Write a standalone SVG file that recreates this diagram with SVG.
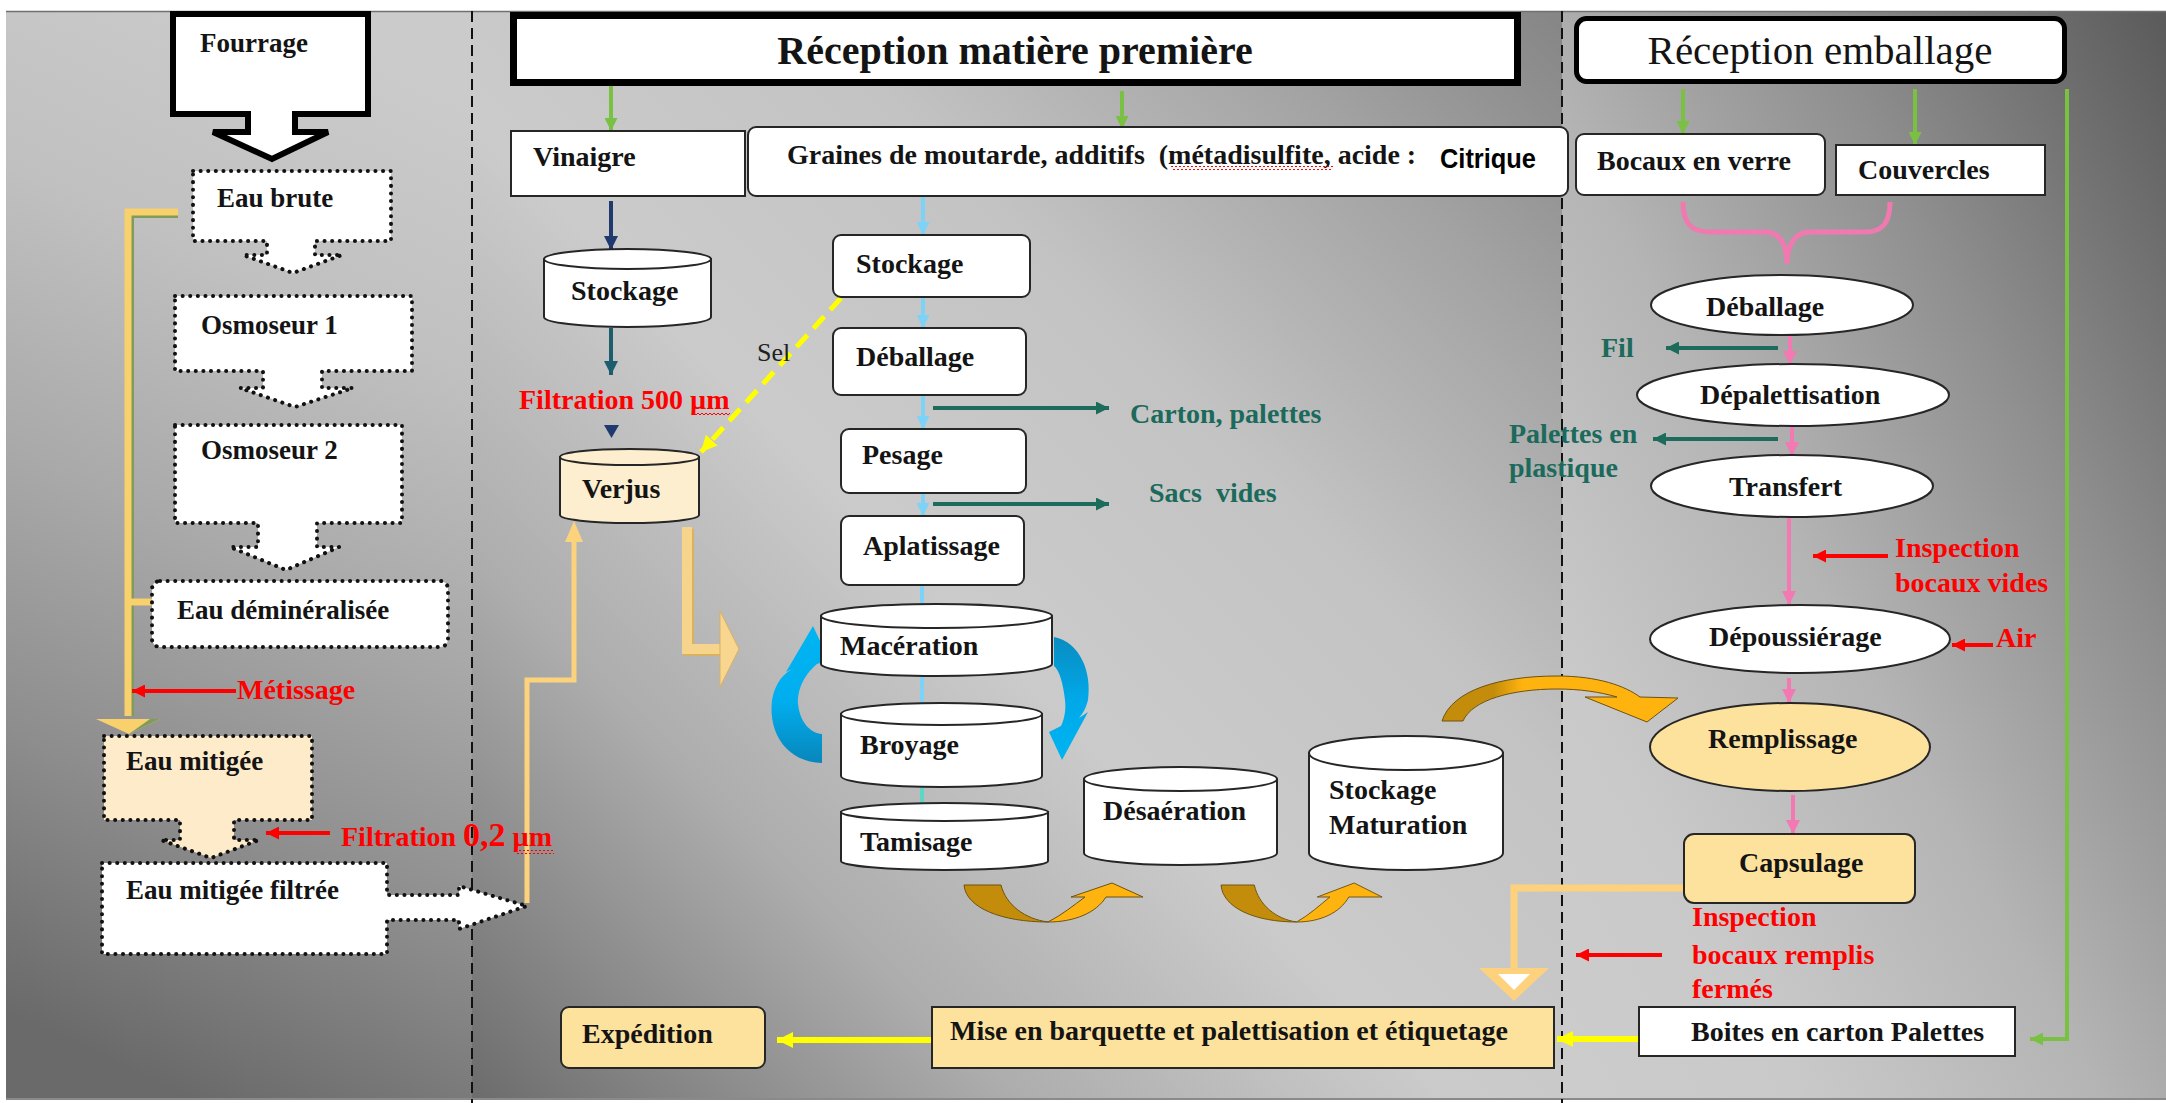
<svg xmlns="http://www.w3.org/2000/svg" width="2166" height="1103" viewBox="0 0 2166 1103">
<defs>
  <linearGradient id="bgL" x1="0.6" y1="0" x2="0.4" y2="1">
    <stop offset="0" stop-color="#cbcbcb"/><stop offset="0.25" stop-color="#c0c0c0"/>
    <stop offset="0.5" stop-color="#a9a9a9"/><stop offset="0.75" stop-color="#8d8d8d"/>
    <stop offset="1" stop-color="#6a6a6a"/>
  </linearGradient>
  <linearGradient id="bgM" x1="1" y1="0" x2="0" y2="1">
    <stop offset="0" stop-color="#858585"/><stop offset="0.15" stop-color="#a2a2a2"/>
    <stop offset="0.35" stop-color="#c3c3c3"/><stop offset="0.55" stop-color="#cbcbcb"/>
    <stop offset="0.75" stop-color="#adadad"/><stop offset="1" stop-color="#6c6c6c"/>
  </linearGradient>
  <linearGradient id="bgR" x1="1" y1="0" x2="0" y2="1">
    <stop offset="0" stop-color="#5a5a5a"/><stop offset="0.3" stop-color="#8f8f8f"/>
    <stop offset="0.55" stop-color="#b4b4b4"/><stop offset="0.8" stop-color="#c9c9c9"/>
    <stop offset="1" stop-color="#cccccc"/>
  </linearGradient>
  <linearGradient id="blueL" x1="0" y1="0" x2="0" y2="1">
    <stop offset="0" stop-color="#00b4f2"/><stop offset="0.55" stop-color="#00aeee"/><stop offset="1" stop-color="#0886bb"/>
  </linearGradient>
  <linearGradient id="blueR" x1="0" y1="0" x2="0" y2="1">
    <stop offset="0" stop-color="#0a8cc0"/><stop offset="0.5" stop-color="#00a8e8"/><stop offset="1" stop-color="#00b4f2"/>
  </linearGradient>
  <linearGradient id="gold" x1="0" y1="0" x2="1" y2="0">
    <stop offset="0" stop-color="#c38d0b"/><stop offset="0.22" stop-color="#c38d0b"/>
    <stop offset="0.34" stop-color="#ffb30f"/><stop offset="1" stop-color="#ffb30f"/>
  </linearGradient>
  <pattern id="squiggle" width="4" height="4" patternUnits="userSpaceOnUse">
    <path d="M0,3 L2,1 L4,3" fill="none" stroke="#ff0000" stroke-width="1"/>
  </pattern>
  <marker id="mGreen" viewBox="0 0 10 10" refX="10" refY="5" markerWidth="13" markerHeight="13" markerUnits="userSpaceOnUse" orient="auto"><path d="M0,0 L10,5 L0,10 z" fill="#7ac143"/></marker>
  <marker id="mNavy" viewBox="0 0 10 10" refX="10" refY="5" markerWidth="14" markerHeight="14" markerUnits="userSpaceOnUse" orient="auto"><path d="M0,0 L10,5 L0,10 z" fill="#1f3a6e"/></marker>
  <marker id="mNavy2" viewBox="0 0 10 10" refX="10" refY="5" markerWidth="14" markerHeight="14" markerUnits="userSpaceOnUse" orient="auto"><path d="M0,0 L10,5 L0,10 z" fill="#1d5d6d"/></marker>
  <marker id="mSky" viewBox="0 0 10 10" refX="10" refY="5" markerWidth="13" markerHeight="13" markerUnits="userSpaceOnUse" orient="auto"><path d="M0,0 L10,5 L0,10 z" fill="#7dd3f7"/></marker>
  <marker id="mTurq" viewBox="0 0 10 10" refX="10" refY="5" markerWidth="13" markerHeight="13" markerUnits="userSpaceOnUse" orient="auto"><path d="M0,0 L10,5 L0,10 z" fill="#5ed6c6"/></marker>
  <marker id="mTeal" viewBox="0 0 10 10" refX="10" refY="5" markerWidth="13" markerHeight="13" markerUnits="userSpaceOnUse" orient="auto"><path d="M0,0 L10,5 L0,10 z" fill="#1d6b5b"/></marker>
  <marker id="mPink" viewBox="0 0 10 10" refX="10" refY="5" markerWidth="14" markerHeight="14" markerUnits="userSpaceOnUse" orient="auto"><path d="M0,0 L10,5 L0,10 z" fill="#f279b2"/></marker>
  <marker id="mRed" viewBox="0 0 10 10" refX="10" refY="5" markerWidth="13" markerHeight="13" markerUnits="userSpaceOnUse" orient="auto"><path d="M0,0 L10,5 L0,10 z" fill="#ff0000"/></marker>
  <marker id="mYellow" viewBox="0 0 10 10" refX="10" refY="5" markerWidth="16" markerHeight="16" markerUnits="userSpaceOnUse" orient="auto"><path d="M0,0 L10,5 L0,10 z" fill="#ffff00"/></marker>
</defs>
<style>
  .lbl{font-family:"Liberation Serif","Times New Roman",serif;font-weight:bold;font-size:28px;fill:#141414}
  .sm{font-size:27px}
  .big{font-size:40px}
  .red{fill:#ff0000}
  .teal{fill:#1b6a5c}
  .box{fill:#ffffff;stroke:#262626;stroke-width:2}
  .peach{fill:#fde29e}
  .dot{fill:#ffffff;stroke:#111111;stroke-width:4;stroke-dasharray:0.1 7.5;stroke-linecap:round;stroke-linejoin:round}
  .cyl{fill:#ffffff;stroke:#262626;stroke-width:2}
  .ln{fill:none;stroke-width:4}
  .div{stroke:#111111;stroke-width:2;stroke-dasharray:11 6}
</style>

<!-- background panels -->
<rect width="2166" height="1103" fill="#ffffff"/>
<rect x="6" y="11" width="466" height="1088" fill="url(#bgL)"/>
<rect x="472" y="11" width="1090" height="1088" fill="url(#bgM)"/>
<rect x="1562" y="11" width="604" height="1088" fill="url(#bgR)"/>
<line x1="6" y1="11.5" x2="2166" y2="11.5" stroke="#707070" stroke-width="1.5"/>
<line x1="6" y1="1099" x2="2166" y2="1099" stroke="#8a8a8a" stroke-width="2"/>
<line class="div" x1="472" y1="11" x2="472" y2="1103"/>
<line class="div" x1="1562" y1="11" x2="1562" y2="1103"/>

<!-- connectors -->
<g id="connectors">
  <!-- water line on the left -->
  <path d="M178,215 H131 V716" fill="none" stroke="#7f9c5b" stroke-width="6"/>
  <path d="M178,212 H128 V716 M128,602 H152" fill="none" stroke="#f8d06c" stroke-width="7"/>
  <polygon points="96,719 160,719 129,734" fill="#f8d06c"/>
  <polyline points="129,734 160,719 150,719" fill="#7f9c5b"/>

  <line class="ln" x1="236" y1="691" x2="132" y2="691" stroke="#ff0000" stroke-width="3" marker-end="url(#mRed)"/>
  <line class="ln" x1="330" y1="833" x2="266" y2="833" stroke="#ff0000" stroke-width="3" marker-end="url(#mRed)"/>

  <!-- filtered water up to verjus -->
  <path d="M527,903 V680 H574 V541" fill="none" stroke="#fdd27c" stroke-width="5"/>
  <polygon points="565,542 583,542 574,521" fill="#fdd27c"/>

  <!-- raw material arrows -->
  <line class="ln" x1="611" y1="85" x2="611" y2="131" stroke="#7ac143" marker-end="url(#mGreen)"/>
  <line class="ln" x1="1122" y1="91" x2="1122" y2="129" stroke="#7ac143" marker-end="url(#mGreen)"/>
  <line class="ln" x1="611" y1="201" x2="611" y2="250" stroke="#1f3a6e" stroke-width="5" marker-end="url(#mNavy)"/>
  <line class="ln" x1="611" y1="328" x2="611" y2="375" stroke="#1d5d6d" stroke-width="5" marker-end="url(#mNavy2)"/>
  <polygon points="604,425 619,425 611.5,438" fill="#1f3a6e"/>

  <!-- salt -->
  <line x1="841" y1="298" x2="701" y2="452" stroke="#ffff00" stroke-width="5" stroke-dasharray="16 9" marker-end="url(#mYellow)"/>

  <!-- verjus to maceration -->
  <path d="M689,529 V651 H720" fill="none" stroke="#d9b25e" stroke-width="10"/>
  <path d="M687,527 V649 H720" fill="none" stroke="#f6d48c" stroke-width="10"/>
  <polygon points="720,611 739,649 720,687" fill="#f8d690" stroke="#d8b060" stroke-width="1"/>

  <!-- mustard seed line -->
  <line class="ln" x1="923" y1="196" x2="923" y2="235" stroke="#7dd3f7" marker-end="url(#mSky)"/>
  <line class="ln" x1="923" y1="297" x2="923" y2="328" stroke="#7dd3f7" marker-end="url(#mSky)"/>
  <line class="ln" x1="923" y1="395" x2="923" y2="429" stroke="#7dd3f7" marker-end="url(#mSky)"/>
  <line class="ln" x1="923" y1="493" x2="923" y2="516" stroke="#7dd3f7" marker-end="url(#mSky)"/>
  <line class="ln" x1="922" y1="585" x2="922" y2="624" stroke="#7dd3f7" marker-end="url(#mSky)"/>
  <line class="ln" x1="922" y1="676" x2="922" y2="717" stroke="#7dd3f7" marker-end="url(#mSky)"/>
  <line class="ln" x1="922" y1="787" x2="922" y2="819" stroke="#5ed6c6" marker-end="url(#mTurq)"/>
  <line class="ln" x1="933" y1="408" x2="1109" y2="408" stroke="#1d6b5b" stroke-width="3" marker-end="url(#mTeal)"/>
  <line class="ln" x1="933" y1="504" x2="1109" y2="504" stroke="#1d6b5b" stroke-width="3" marker-end="url(#mTeal)"/>

  <!-- recirculation between maceration and grinding -->
  <path d="M822,763 C788,762 768,735 772,700 C775,683 784,672 796,667 L786,672 L813,626 L829,660 L817,664 C806,673 797,688 798,704 C800,722 810,733 822,734 Z" fill="url(#blueL)"/>
  <path d="M1054,637 C1080,642 1092,672 1088,700 C1086,708 1083,713 1079,718 L1088,712 L1062,760 L1049,732 L1061,726 C1065,718 1066,708 1065,700 C1063,682 1059,670 1054,666 Z" fill="url(#blueR)"/>

  <!-- transfer arrows between tanks -->
  <g id="uturn1" stroke="#6e5210" stroke-width="1">
    <path d="M964,885 L1001,885 C1006,905 1025,919 1048,922 C1002,922 966,908 964,885 Z" fill="#c38d0b"/>
    <path d="M1048,922 C1062,915 1074,905 1085,897 L1071,897 L1112,883 L1143,897 L1106,897 C1096,913 1074,922 1048,922 Z" fill="#ffb30f"/>
  </g>
  <g id="uturn2" stroke="#6e5210" stroke-width="1" transform="translate(1221,0) scale(0.9,1) translate(-964,0)">
    <path d="M964,885 L1001,885 C1006,905 1025,919 1048,922 C1002,922 966,908 964,885 Z" fill="#c38d0b"/>
    <path d="M1048,922 C1062,915 1074,905 1085,897 L1071,897 L1112,883 L1143,897 L1106,897 C1096,913 1074,922 1048,922 Z" fill="#ffb30f"/>
  </g>
  <path d="M1442,721 C1452,690 1500,676 1557,676 C1598,676 1625,686 1640,697 L1678,698 L1647,722 L1585,697 L1617,697 C1600,692 1580,689 1557,689 C1512,689 1472,700 1463,721 Z" fill="url(#gold)" stroke="#6e5210" stroke-width="1"/>

  <!-- packaging line -->
  <line class="ln" x1="1683" y1="89" x2="1683" y2="134" stroke="#7ac143" marker-end="url(#mGreen)"/>
  <line class="ln" x1="1915" y1="89" x2="1915" y2="145" stroke="#7ac143" marker-end="url(#mGreen)"/>
  <path d="M2067,89 V1039 H2030" class="ln" stroke="#7ac143" marker-end="url(#mGreen)"/>
  <path d="M1683,202 C1683,222 1690,232 1710,232 L1765,232 C1780,232 1787,245 1787,264 M1890,202 C1890,222 1883,232 1865,232 L1810,232 C1795,232 1787,245 1787,264" fill="none" stroke="#f07ab0" stroke-width="5"/>
  <line class="ln" x1="1790" y1="336" x2="1790" y2="365" stroke="#f279b2" marker-end="url(#mPink)"/>
  <line class="ln" x1="1792" y1="427" x2="1792" y2="456" stroke="#f279b2" marker-end="url(#mPink)"/>
  <line class="ln" x1="1789" y1="516" x2="1789" y2="605" stroke="#f279b2" marker-end="url(#mPink)"/>
  <line class="ln" x1="1789" y1="678" x2="1789" y2="703" stroke="#f279b2" marker-end="url(#mPink)"/>
  <line class="ln" x1="1793" y1="795" x2="1793" y2="834" stroke="#f279b2" marker-end="url(#mPink)"/>
  <line class="ln" x1="1778" y1="348" x2="1666" y2="348" stroke="#1d6b5b" stroke-width="3" marker-end="url(#mTeal)"/>
  <line class="ln" x1="1778" y1="439" x2="1653" y2="439" stroke="#1d6b5b" stroke-width="3" marker-end="url(#mTeal)"/>
  <line class="ln" x1="1888" y1="556" x2="1813" y2="556" stroke="#ff0000" stroke-width="3" marker-end="url(#mRed)"/>
  <line class="ln" x1="1993" y1="645" x2="1952" y2="645" stroke="#ff0000" stroke-width="3" marker-end="url(#mRed)"/>
  <line class="ln" x1="1662" y1="955" x2="1576" y2="955" stroke="#ff0000" stroke-width="6" marker-end="url(#mRed)"/>

  <!-- capping to tray packing -->
  <path d="M1684,888 H1514 V970" fill="none" stroke="#fed27c" stroke-width="7"/>
  <polygon points="1479,968 1549,968 1514,1001" fill="#fed27c"/>
  <polygon points="1498,974 1530,974 1514,990" fill="#ffffff"/>

  <line x1="1639" y1="1039" x2="1557" y2="1039" stroke="#ffff00" stroke-width="6" marker-end="url(#mYellow)"/>
  <line x1="932" y1="1040" x2="777" y2="1040" stroke="#ffff00" stroke-width="6" marker-end="url(#mYellow)"/>
</g>

<!-- water treatment column -->
<g id="fourrage">
  <path d="M173,14 H368 V114 H295 V132 H328 L272,159 L213,132 H248 V114 H173 Z" fill="#ffffff" stroke="#000000" stroke-width="6" stroke-linejoin="miter"/>
  <text class="lbl sm" x="200" y="52">Fourrage</text>
</g>
<g id="eau-brute">
  <path class="dot" d="M193,171 H391 V241 H315 V255 H342 L293,273 L243,255 H267 V241 H193 Z"/>
  <text class="lbl sm" x="217" y="207">Eau brute</text>
</g>
<g id="osmoseur-1">
  <path class="dot" d="M175,296 H412 V371 H322 V388 H353 L295,407 L240,388 H263 V371 H175 Z"/>
  <text class="lbl sm" x="201" y="334">Osmoseur 1</text>
</g>
<g id="osmoseur-2">
  <path class="dot" d="M175,425 H402 V523 H317 V547 H339 L286,570 L230,547 H258 V523 H175 Z"/>
  <text class="lbl sm" x="201" y="459">Osmoseur 2</text>
</g>
<g id="eau-demineralisee">
  <rect class="dot" x="152" y="581" width="296" height="66" rx="8"/>
  <text class="lbl sm" x="177" y="619">Eau déminéralisée</text>
</g>
<text class="lbl red" x="237" y="699">Métissage</text>
<g id="eau-mitigee">
  <path class="dot" d="M104,736 H312 V820 H234 V840 H259 L211,858 L161,840 H180 V820 H104 Z" style="fill:#fdebc9"/>
  <text class="lbl sm" x="126" y="770">Eau mitigée</text>
</g>
<g id="filtration-02">
  <text class="lbl red" x="341" y="846">Filtration <tspan style="font-size:34px">0,2</tspan> µm</text>
  <rect x="516" y="850" width="38" height="4" fill="url(#squiggle)"/>
</g>
<g id="eau-mitigee-filtree">
  <path class="dot" d="M102,863 H387 V895 H459 V886 L527,906 L459,929 V920 H387 V954 H102 Z"/>
  <text class="lbl sm" x="126" y="899">Eau mitigée filtrée</text>
</g>

<!-- raw material column -->
<g id="reception-matiere">
  <rect x="513.5" y="15.5" width="1004" height="67" fill="#ffffff" stroke="#000000" stroke-width="7"/>
  <text class="lbl big" x="1015" y="64" text-anchor="middle">Réception matière première</text>
</g>
<g id="vinaigre">
  <rect class="box" x="511" y="131" width="234" height="65"/>
  <text class="lbl" x="533" y="166">Vinaigre</text>
</g>
<g id="graines">
  <rect class="box" x="748" y="127" width="820" height="69" rx="8"/>
  <text class="lbl" x="787" y="164">Graines de moutarde, additifs&#160; (métadisulfite, acide :</text>
  <rect x="1171" y="166" width="162" height="4" fill="url(#squiggle)"/>
  <rect x="1430" y="129" width="134" height="65" fill="#ffffff"/>
  <text x="1440" y="168" font-family="Liberation Sans, Arial, sans-serif" font-weight="bold" font-size="27" fill="#000000" textLength="96" lengthAdjust="spacingAndGlyphs">Citrique</text>
</g>
<g id="stockage-vinaigre">
  <path class="cyl" d="M544,259 V317 A83.5,10 0 0 0 711,317 V259 Z"/>
  <ellipse class="cyl" cx="627.5" cy="259" rx="83.5" ry="10"/>
  <text class="lbl" x="571" y="300">Stockage</text>
</g>
<g id="filtration-500">
  <text class="lbl red" x="519" y="409">Filtration 500 µm</text>
  <rect x="693" y="412" width="37" height="4" fill="url(#squiggle)"/>
</g>
<text x="757" y="361" font-family="Liberation Serif, Times New Roman, serif" font-size="26" fill="#222222">Sel</text>
<g id="verjus">
  <path class="cyl" d="M560,457 V515 A69.5,8 0 0 0 699,515 V457 Z" style="fill:#fdeecf"/>
  <ellipse class="cyl" cx="629.5" cy="457" rx="69.5" ry="8" style="fill:#fdeecf"/>
  <text class="lbl" x="582" y="498">Verjus</text>
</g>
<g id="stockage-graines">
  <rect class="box" x="833" y="235" width="197" height="62" rx="8"/>
  <text class="lbl" x="856" y="273">Stockage</text>
</g>
<g id="deballage-graines">
  <rect class="box" x="833" y="328" width="193" height="67" rx="8"/>
  <text class="lbl" x="856" y="366">Déballage</text>
</g>
<text class="lbl teal" x="1130" y="423">Carton, palettes</text>
<g id="pesage">
  <rect class="box" x="841" y="429" width="185" height="64" rx="8"/>
  <text class="lbl" x="862" y="464">Pesage</text>
</g>
<text class="lbl teal" x="1149" y="502">Sacs&#160; vides</text>
<g id="aplatissage">
  <rect class="box" x="841" y="516" width="183" height="69" rx="8"/>
  <text class="lbl" x="863" y="555">Aplatissage</text>
</g>
<g id="maceration">
  <path class="cyl" d="M821,616 V664 A115.5,12 0 0 0 1052,664 V616 Z"/>
  <ellipse class="cyl" cx="936.5" cy="616" rx="115.5" ry="12"/>
  <text class="lbl" x="840" y="655">Macération</text>
</g>
<g id="broyage">
  <path class="cyl" d="M841,714 V776 A100.5,11 0 0 0 1042,776 V714 Z"/>
  <ellipse class="cyl" cx="941.5" cy="714" rx="100.5" ry="11"/>
  <text class="lbl" x="860" y="754">Broyage</text>
</g>
<g id="tamisage">
  <path class="cyl" d="M841,812 V861 A103.5,9 0 0 0 1048,861 V812 Z"/>
  <ellipse class="cyl" cx="944.5" cy="812" rx="103.5" ry="9"/>
  <text class="lbl" x="860" y="851">Tamisage</text>
</g>
<g id="desaeration">
  <path class="cyl" d="M1084,779 V853 A96.5,12 0 0 0 1277,853 V779 Z"/>
  <ellipse class="cyl" cx="1180.5" cy="779" rx="96.5" ry="12"/>
  <text class="lbl" x="1103" y="820">Désaération</text>
</g>
<g id="stockage-maturation">
  <path class="cyl" d="M1309,753 V853 A97,17 0 0 0 1503,853 V753 Z"/>
  <ellipse class="cyl" cx="1406" cy="753" rx="97" ry="17"/>
  <text class="lbl" x="1329" y="799">Stockage</text>
  <text class="lbl" x="1329" y="834">Maturation</text>
</g>
<g id="expedition">
  <rect class="box peach" x="561" y="1007" width="204" height="61" rx="8"/>
  <text class="lbl" x="582" y="1043">Expédition</text>
</g>
<g id="mise-en-barquette">
  <rect class="box peach" x="932" y="1007" width="622" height="61"/>
  <text class="lbl" x="950" y="1040">Mise en barquette et palettisation et étiquetage</text>
</g>

<!-- packaging column -->
<g id="reception-emballage">
  <rect x="1576.5" y="18.5" width="488" height="63" rx="10" fill="#ffffff" stroke="#000000" stroke-width="5"/>
  <text x="1820" y="64" text-anchor="middle" font-family="Liberation Serif, Times New Roman, serif" font-size="41" fill="#141414">Réception emballage</text>
</g>
<g id="bocaux">
  <rect class="box" x="1576" y="134" width="249" height="61" rx="8"/>
  <text class="lbl" x="1597" y="170">Bocaux en verre</text>
</g>
<g id="couvercles">
  <rect class="box" x="1836" y="145" width="209" height="50"/>
  <text class="lbl" x="1858" y="179">Couvercles</text>
</g>
<g id="deballage-bocaux">
  <ellipse class="box" cx="1782" cy="305" rx="131" ry="30"/>
  <text class="lbl" x="1706" y="316">Déballage</text>
</g>
<text class="lbl teal" x="1601" y="357">Fil</text>
<g id="depalettisation">
  <ellipse class="box" cx="1793" cy="395" rx="156" ry="31"/>
  <text class="lbl" x="1700" y="404">Dépalettisation</text>
</g>
<text class="lbl teal" x="1509" y="443">Palettes en</text>
<text class="lbl teal" x="1509" y="477">plastique</text>
<g id="transfert">
  <ellipse class="box" cx="1792" cy="486" rx="141" ry="31"/>
  <text class="lbl" x="1729" y="496">Transfert</text>
</g>
<text class="lbl red" x="1895" y="557">Inspection</text>
<text class="lbl red" x="1895" y="592">bocaux vides</text>
<g id="depoussierage">
  <ellipse class="box" cx="1800" cy="639" rx="150" ry="34"/>
  <text class="lbl" x="1709" y="646">Dépoussiérage</text>
</g>
<text class="lbl red" x="1996" y="647">Air</text>
<g id="remplissage">
  <ellipse class="box peach" cx="1790" cy="747" rx="140" ry="44"/>
  <text class="lbl" x="1708" y="748">Remplissage</text>
</g>
<g id="capsulage">
  <rect class="box peach" x="1684" y="834" width="231" height="69" rx="10"/>
  <text class="lbl" x="1739" y="872">Capsulage</text>
</g>
<text class="lbl red" x="1692" y="926">Inspection</text>
<text class="lbl red" x="1692" y="964">bocaux remplis</text>
<text class="lbl red" x="1692" y="998">fermés</text>
<g id="boites">
  <rect class="box" x="1639" y="1007" width="376" height="49"/>
  <text class="lbl" x="1691" y="1041">Boites en carton Palettes</text>
</g>
</svg>
